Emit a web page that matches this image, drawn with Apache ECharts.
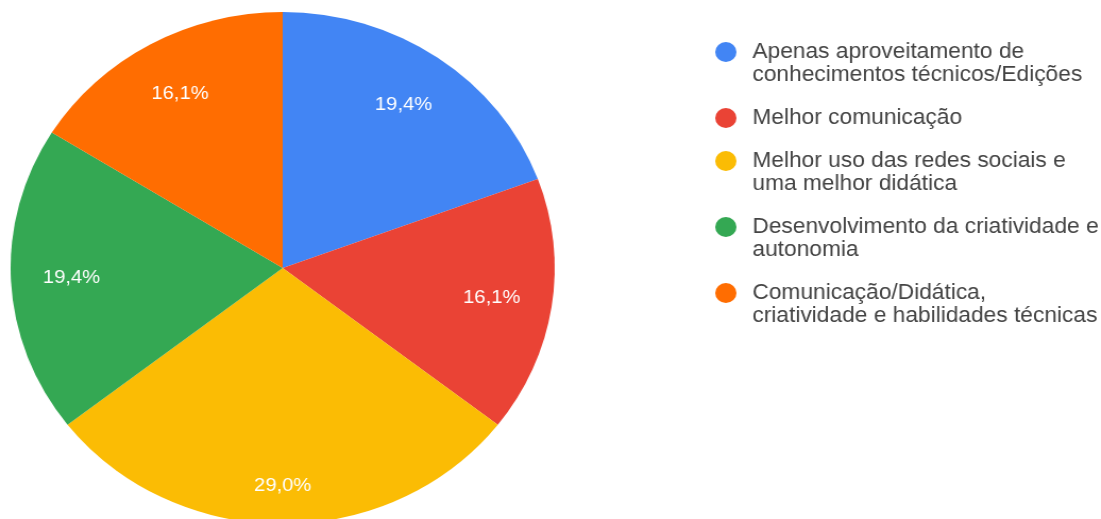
<!DOCTYPE html>
<html>
<head>
<meta charset="utf-8">
<script src="https://cdn.jsdelivr.net/npm/echarts@6/dist/echarts.min.js"></script>
<style>
  html, body { margin: 0; padding: 0; background: #fff; overflow: hidden; }
  #chart { width: 1036px; height: 519px; transform: scaleX(1.0627); transform-origin: 0 0; }
</style>
</head>
<body>
<div id="chart"></div>
<script>
// Answers and their counts
const categories = [
  'Apenas aproveitamento de conhecimentos técnicos/Edições',
  'Melhor comunicação',
  'Melhor uso das redes sociais e uma melhor didática',
  'Desenvolvimento da criatividade e autonomia',
  'Comunicação/Didática, criatividade e habilidades técnicas'
];
const legendLines = [
  ['Apenas aproveitamento de', 'conhecimentos técnicos/Edições'],
  ['Melhor comunicação'],
  ['Melhor uso das redes sociais e', 'uma melhor didática'],
  ['Desenvolvimento da criatividade e', 'autonomia'],
  ['Comunicação/Didática,', 'criatividade e habilidades técnicas']
];
const values = [6, 5, 9, 6, 5];
const colors = ['#4285F4', '#EA4335', '#FBBC04', '#34A853', '#FF6D01'];

const total = values.reduce((a, b) => a + b, 0);
const fmtPct = v => (v / total * 100).toFixed(1).replace('.', ',') + '%';

const FONT = '"Liberation Sans", Arial, Helvetica, sans-serif';
const LH = 23;          // legend line height
const ENTRY_GAP = 43;   // distance from last line of one entry to first line of next

// One legend block per entry so the marker sits on the first text line
const legends = [];
let lineY = 52;
categories.forEach((name, i) => {
  const lines = legendLines[i];
  const multi = lines.length > 1;
  // the extra leading blank line keeps the marker centred on the first line
  const text = multi ? '\n' + lines.join('\n') : lines[0];
  const blockH = (multi ? lines.length + 1 : 1) * LH;
  const top = lineY - blockH / 2;
  legends.push({
    show: true,
    orient: 'vertical',
    left: 673,
    top: top,
    padding: 0,
    data: [name],
    icon: 'circle',
    itemWidth: 20,
    itemHeight: 20,
    selectedMode: false,
    formatter: () => text,
    textStyle: {
      fontFamily: FONT,
      fontSize: 21.4,
      lineHeight: LH,
      color: '#444',
      padding: [0, 0, 0, 10]
    }
  });
  lineY += (lines.length - 1) * LH + ENTRY_GAP;
});

const pieData = categories.map((name, i) => ({
  name: name,
  value: values[i],
  itemStyle: { color: colors[i] }
}));

// The largest slice carries its label a little further out
const OUTER_LABEL = 2;
const labelData = categories.map((name, i) => {
  const d = { name: name, value: values[i] };
  if (i === OUTER_LABEL) d.label = { lineHeight: 38 };
  return d;
});

const chart = echarts.init(document.getElementById('chart'), null, { renderer: 'canvas' });
chart.setOption({
  animation: false,
  backgroundColor: '#fff',
  legend: legends,
  series: [
    {
      type: 'pie',
      center: [266, 268],
      radius: 256,
      startAngle: 90,
      clockwise: true,
      silent: true,
      label: { show: false },
      labelLine: { show: false },
      itemStyle: { borderWidth: 0 },
      emphasis: { disabled: true },
      data: pieData
    },
    {
      type: 'pie',
      center: [266, 268],
      radius: [136, 256],
      startAngle: 90,
      clockwise: true,
      silent: true,
      itemStyle: { color: 'rgba(0,0,0,0)', borderWidth: 0 },
      labelLine: { show: false },
      emphasis: { disabled: true },
      label: {
        show: true,
        position: 'inside',
        color: '#fff',
        fontFamily: FONT,
        fontSize: 19,
        formatter: p => (p.dataIndex === OUTER_LABEL ? '\n' : '') + fmtPct(p.value)
      },
      data: labelData
    }
  ]
});
</script>
</body>
</html>
